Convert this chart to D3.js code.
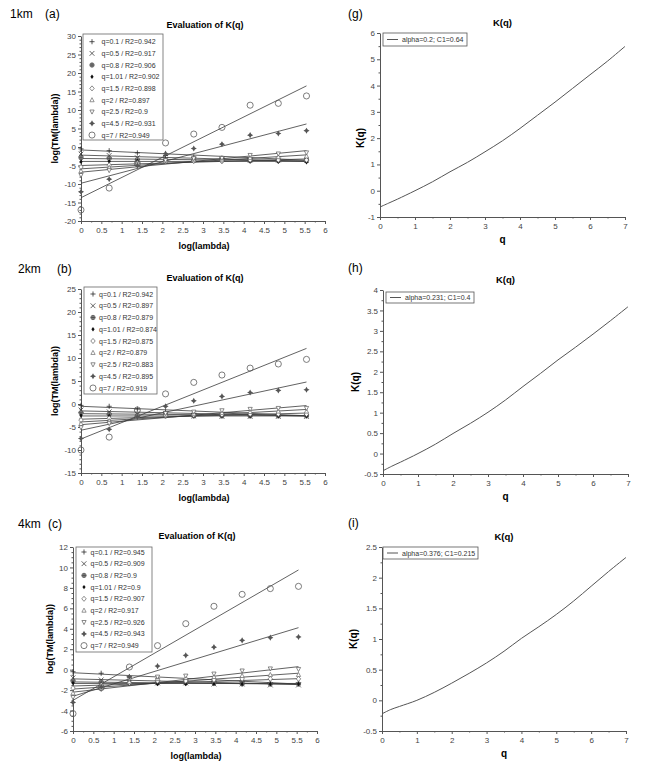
<!DOCTYPE html>
<html><head><meta charset="utf-8">
<script src="https://cdn.jsdelivr.net/npm/d3@7"></script>
<style>
body{margin:0;background:#fff;}
svg{display:block;font-family:"Liberation Sans",Arial,sans-serif;}
</style></head><body>
<svg id="c" width="669" height="761"></svg>
<script>
// ---------------- DATA ----------------
const logLambda = [0, 0.693, 1.386, 2.079, 2.773, 3.466, 4.159, 4.852, 5.545];
const qLabels = ["0.1","0.5","0.8","1.01","1.5","2","2.5","4.5","7"];
const markerTypes = ["plus","cross","circlePlus","dot","diamond","triUp","triDown","star","circle"];

const r2_1km = ["0.942","0.917","0.906","0.902","0.898","0.897","0.9","0.931","0.949"];
const r2_2km = ["0.942","0.897","0.879","0.874","0.875","0.879","0.883","0.895","0.919"];
const r2_4km = ["0.945","0.909","0.9","0.9","0.907","0.917","0.926","0.943","0.949"];

// log(TM(lambda)) points, one row per q
const tm1km = [
  [-0.5,-1.0,-1.6,-2.3,-2.7,-3.0,-3.2,-3.3,-3.4],
  [-1.9,-2.3,-2.9,-3.3,-3.4,-3.4,-3.5,-3.5,-3.6],
  [-2.9,-3.1,-3.4,-3.6,-3.6,-3.6,-3.7,-3.7,-3.6],
  [-4.0,-3.9,-3.8,-3.7,-3.8,-3.9,-3.9,-4.0,-4.1],
  [-5.4,-4.9,-4.3,-3.9,-3.8,-3.8,-3.5,-3.5,-3.5],
  [-6.5,-5.6,-4.6,-3.8,-3.5,-3.4,-2.9,-2.7,-2.5],
  [-7.6,-6.3,-4.8,-3.6,-3.1,-3.0,-2.2,-1.8,-1.5],
  [-12.1,-8.7,-5.0,-1.8,-0.4,0.75,3.2,3.65,4.4],
  [-17.0,-11.1,-4.5,1.1,3.5,5.3,11.3,11.8,13.8]
];
const fit1kmIntercept = [-0.8,-2.2,-3.1,-3.9,-5.0,-5.9,-6.8,-9.8,-13.7];
const fit1kmSlope     = [-0.5,-0.3,-0.12,0.0,0.32,0.68,1.05,2.89,5.45];

const tm2km = [
  [-0.3,-0.5,-1.1,-1.7,-2.0,-2.2,-2.3,-2.3,-2.4],
  [-1.3,-1.7,-2.2,-2.5,-2.6,-2.7,-2.7,-2.7,-2.7],
  [-1.9,-2.2,-2.5,-2.6,-2.6,-2.6,-2.6,-2.6,-2.6],
  [-2.5,-2.6,-2.6,-2.6,-2.6,-2.6,-2.6,-2.6,-2.6],
  [-3.5,-3.1,-2.7,-2.5,-2.4,-2.3,-2.2,-2.2,-2.2],
  [-4.3,-3.7,-2.8,-2.3,-2.1,-1.9,-1.7,-1.6,-1.6],
  [-5.1,-4.2,-2.9,-2.0,-1.7,-1.4,-1.1,-0.9,-0.9],
  [-7.5,-5.5,-2.8,-0.5,0.7,1.65,2.5,2.95,3.1],
  [-10.0,-7.2,-1.3,2.2,4.7,6.3,7.8,8.7,9.7]
];
const fit2kmIntercept = [-0.5,-1.5,-2.1,-2.6,-3.3,-3.9,-4.5,-5.7,-7.6];
const fit2kmSlope     = [-0.37,-0.2,-0.08,0.0,0.24,0.49,0.75,1.89,3.55];

const tm4km = [
  [-0.2,-0.35,-0.7,-0.9,-1.0,-1.1,-1.2,-1.3,-1.3],
  [-0.8,-1.0,-1.2,-1.3,-1.3,-1.4,-1.4,-1.5,-1.5],
  [-1.1,-1.2,-1.3,-1.3,-1.3,-1.3,-1.4,-1.4,-1.4],
  [-1.3,-1.4,-1.4,-1.4,-1.4,-1.4,-1.4,-1.4,-1.4],
  [-1.8,-1.5,-1.3,-1.1,-1.1,-1.0,-0.9,-0.9,-0.9],
  [-2.3,-1.7,-1.2,-0.9,-0.8,-0.7,-0.6,-0.5,-0.5],
  [-2.7,-1.9,-0.9,-0.7,-0.6,-0.4,-0.1,0.1,0.05],
  [-3.2,-1.7,-0.7,0.35,1.4,2.2,2.87,3.13,3.2],
  [-4.3,-1.76,0.26,2.35,4.5,6.2,7.37,7.93,8.15]
];
const fit4kmIntercept = [-0.3,-0.9,-1.2,-1.35,-1.6,-1.9,-2.2,-2.6,-3.0];
const fit4kmSlope     = [-0.2,-0.1,-0.04,0.0,0.13,0.28,0.45,1.21,2.3];

// K(q) curves
const qGrid = [0,0.25,0.5,1,1.5,2,2.5,3,3.5,4,4.5,5,5.5,6,6.5,7];
const kq1km = [-0.62,-0.47,-0.32,0.0,0.34,0.72,1.08,1.48,1.9,2.37,2.87,3.37,3.89,4.41,4.93,5.49];
const kq2km = [-0.42,-0.31,-0.21,0.0,0.23,0.49,0.74,1.01,1.31,1.64,1.96,2.29,2.6,2.92,3.25,3.59];
const kq4km = [-0.22,-0.15,-0.1,0.0,0.13,0.28,0.44,0.61,0.8,1.01,1.2,1.4,1.62,1.86,2.1,2.33];
const kqLegend = ["alpha=0.2; C1=0.64","alpha=0.231; C1=0.4","alpha=0.376; C1=0.215"];

// tick values
const xTicksLeft = [0,0.5,1,1.5,2,2.5,3,3.5,4,4.5,5,5.5,6];
const yTicks1km = [-20,-15,-10,-5,0,5,10,15,20,25,30];
const yTicks2km = [-15,-10,-5,0,5,10,15,20,25];
const yTicks4km = [-6,-4,-2,0,2,4,6,8,10,12];
const xTicksRight = [0,1,2,3,4,5,6,7];
const yTicksK1 = [-1,0,1,2,3,4,5,6];
const yTicksK2 = [-0.5,0,0.5,1,1.5,2,2.5,3,3.5,4];
const yTicksK3 = [-0.5,0,0.5,1,1.5,2,2.5];

// ---------------- DRAW ----------------
const svg = d3.select("#c");
const fmt = v => String(+v.toFixed(2));
const AX = "#555";

function styleAxis(sel){
  sel.select(".domain").attr("stroke",AX).attr("stroke-width",1);
  sel.selectAll(".tick line").attr("stroke",AX);
  sel.selectAll(".tick text").attr("fill","#444").attr("font-size",8);
}
function minor(vals, step){
  const out=[]; const lo=vals[0], hi=vals[vals.length-1];
  for(let v=lo; v<=hi+1e-9; v+=step){ if(!vals.some(t=>Math.abs(t-v)<1e-9)) out.push(+v.toFixed(4)); }
  return out;
}
function axes(x,y,o){
  const bx = svg.append("g").attr("transform",`translate(0,${o.yBot})`)
    .call(d3.axisBottom(x).tickValues(o.xt).tickSize(3).tickSizeOuter(0).tickPadding(3).tickFormat(fmt));
  styleAxis(bx);
  svg.append("g").attr("transform",`translate(0,${o.yBot})`)
    .call(d3.axisBottom(x).tickValues(minor(o.xt,o.xm)).tickSize(1.5).tickFormat(""))
    .call(s=>{s.select(".domain").remove(); s.selectAll("line").attr("stroke",AX);});
  const by = svg.append("g").attr("transform",`translate(${o.x0},0)`)
    .call(d3.axisLeft(y).tickValues(o.yt).tickSize(3).tickSizeOuter(0).tickPadding(2).tickFormat(fmt));
  styleAxis(by);
  svg.append("g").attr("transform",`translate(${o.x0},0)`)
    .call(d3.axisLeft(y).tickValues(minor(o.yt,o.ym)).tickSize(1.5).tickFormat(""))
    .call(s=>{s.select(".domain").remove(); s.selectAll("line").attr("stroke",AX);});
}
function marker(g, type, cx, cy){
  const m = g.append("g").attr("transform",`translate(${cx},${cy}) scale(0.85)`);
  switch(type){
    case "plus": m.append("path").attr("d","M-3,0H3M0,-3V3").attr("stroke","#222").attr("stroke-width",0.9); break;
    case "cross": m.append("path").attr("d","M-2.8,-2.8L2.8,2.8M-2.8,2.8L2.8,-2.8").attr("stroke","#333").attr("stroke-width",0.9); break;
    case "circlePlus":
      m.append("circle").attr("r",2.6).attr("fill","#999").attr("stroke","#444").attr("stroke-width",0.7);
      m.append("path").attr("d","M-2.6,0H2.6M0,-2.6V2.6").attr("stroke","#333").attr("stroke-width",0.7); break;
    case "dot": m.append("path").attr("d","M0,-2.6L1.9,0L0,2.6L-1.9,0Z").attr("fill","#111"); break;
    case "diamond": m.append("path").attr("d","M0,-3L2.6,0L0,3L-2.6,0Z").attr("fill","#fff").attr("stroke","#555").attr("stroke-width",0.8); break;
    case "triUp": m.append("path").attr("d","M0,-2.8L2.5,2L-2.5,2Z").attr("fill","#fff").attr("stroke","#666").attr("stroke-width",0.8); break;
    case "triDown": m.append("path").attr("d","M0,2.8L2.5,-2L-2.5,-2Z").attr("fill","#fff").attr("stroke","#555").attr("stroke-width",0.8); break;
    case "star": m.append("path").attr("d","M0,-3.6L1.3,-1.3L3.6,0L1.3,1.3L0,3.6L-1.3,1.3L-3.6,0L-1.3,-1.3Z").attr("fill","#555"); break;
    case "circle": m.append("circle").attr("r",3.6).attr("fill","none").attr("stroke","#555").attr("stroke-width",0.9); break;
  }
}
function text(x,y,t,opt={}){
  const e = svg.append("text").attr("x",x).attr("y",y).text(t)
    .attr("font-size",opt.size||9).attr("fill",opt.fill||"#000")
    .attr("text-anchor",opt.anchor||"middle");
  if(opt.bold) e.attr("font-weight","bold");
  if(opt.rotate) e.attr("transform",`rotate(-90,${x},${y})`);
  return e;
}

function leftPanel(o){
  const x = d3.scaleLinear().domain([0,6]).range([o.x0,o.x1]);
  const y = d3.scaleLinear().domain([o.yt[0],o.yt[o.yt.length-1]]).range([o.yBot,o.yTop]);
  axes(x,y,{...o, xt:xTicksLeft, xm:0.25});
  const g = svg.append("g");
  const line = d3.line().x(d=>x(d[0])).y(d=>y(d[1]));
  const xEnd = logLambda[logLambda.length-1];
  o.icpt.forEach((a,i)=>{
    g.append("path").attr("d",line([[0,a],[xEnd,a+o.slope[i]*xEnd]]))
      .attr("fill","none").attr("stroke","#3a3a3a").attr("stroke-width",0.8);
  });
  o.tm.forEach((row,i)=>{
    row.forEach((v,j)=>marker(g, markerTypes[i], x(logLambda[j]), y(v)));
  });
  const L = o.leg;
  svg.append("rect").attr("x",L.x).attr("y",L.y).attr("width",L.w).attr("height",L.h)
    .attr("fill","#fff").attr("stroke","#666").attr("stroke-width",0.8);
  qLabels.forEach((q,i)=>{
    const yy = L.y0 + i*L.dy;
    marker(svg, markerTypes[i], L.mx, yy);
    text(L.tx, yy+2.5, `q=${q} / R2=${o.r2[i]}`, {size:7, anchor:"start", fill:"#333"});
  });
  text((o.x0+o.x1)/2+2, o.yTop-8, "Evaluation of K(q)", {bold:true, size:9});
  text((o.x0+o.x1)/2+1, o.yBot+28, "log(lambda)", {bold:true, size:9});
  text(o.ytx, (o.yTop+o.yBot)/2, "log(TM(lambda))", {bold:true, size:9, rotate:true}).attr("dominant-baseline","central");
  text(o.lab1x, o.laby, o.lab1, {size:12, anchor:"start"});
  text(o.lab2x, o.laby, o.lab2, {size:12, anchor:"start"});
}

function rightPanel(o){
  const x = d3.scaleLinear().domain([0,7]).range([o.x0,o.x1]);
  const y = d3.scaleLinear().domain([o.yt[0],o.yt[o.yt.length-1]]).range([o.yBot,o.yTop]);
  axes(x,y,{...o, xt:xTicksRight, xm:0.5});
  const line = d3.line().curve(d3.curveCatmullRom).x((d,i)=>x(qGrid[i])).y(d=>y(d));
  svg.append("path").attr("d",line(o.k)).attr("fill","none").attr("stroke","#555").attr("stroke-width",1);
  const L = o.leg;
  svg.append("rect").attr("x",L.x).attr("y",L.y).attr("width",L.w).attr("height",L.h)
    .attr("fill","#fff").attr("stroke","#555").attr("stroke-width",0.8);
  svg.append("line").attr("x1",L.x+4).attr("x2",L.x+15).attr("y1",L.y+L.h/2).attr("y2",L.y+L.h/2)
    .attr("stroke","#555").attr("stroke-width",1);
  text(L.x+19, L.y+L.h/2+2.5, o.legText, {size:7, anchor:"start", fill:"#333"});
  text((o.x0+o.x1)/2, o.yTop-7, "K(q)", {bold:true, size:9.5});
  text((o.x0+o.x1)/2, o.yBot+26, "q", {bold:true, size:10});
  text(o.ytx, o.yty, "K(q)", {bold:true, size:10, rotate:true}).attr("dominant-baseline","central");
  text(348, o.laby, o.lab, {size:12, anchor:"start"});
}

leftPanel({x0:81,x1:325,yTop:36,yBot:221,yt:yTicks1km,ym:1,tm:tm1km,icpt:fit1kmIntercept,slope:fit1kmSlope,r2:r2_1km,
  leg:{x:83,y:34,w:80,h:106,y0:41.7,dy:11.67,mx:92,tx:101.5}, ytx:55,
  lab1:"1km",lab1x:10,lab2:"(a)",lab2x:45,laby:18});
leftPanel({x0:81,x1:325,yTop:289,yBot:473,yt:yTicks2km,ym:1,tm:tm2km,icpt:fit2kmIntercept,slope:fit2kmSlope,r2:r2_2km,
  leg:{x:84,y:287,w:73,h:107,y0:294,dy:11.75,mx:93,tx:99}, ytx:55,
  lab1:"2km",lab1x:18,lab2:"(b)",lab2x:57,laby:273});
leftPanel({x0:73,x1:317,yTop:547,yBot:731,yt:yTicks4km,ym:0.5,tm:tm4km,icpt:fit4kmIntercept,slope:fit4kmSlope,r2:r2_4km,
  leg:{x:76,y:547,w:76,h:105,y0:552,dy:11.7,mx:84,tx:90.5}, ytx:50,
  lab1:"4km",lab1x:18,lab2:"(c)",lab2x:48,laby:528});

rightPanel({x0:380,x1:625,yTop:33,yBot:217,yt:yTicksK1,ym:0.5,k:kq1km,legText:kqLegend[0],
  leg:{x:383,y:33,w:84,h:13}, ytx:360, yty:138, lab:"(g)", laby:18});
rightPanel({x0:383,x1:628,yTop:290,yBot:474,yt:yTicksK2,ym:0.25,k:kq2km,legText:kqLegend[1],
  leg:{x:386,y:292,w:88,h:11}, ytx:355, yty:382, lab:"(h)", laby:272});
rightPanel({x0:382,x1:626,yTop:547,yBot:731,yt:yTicksK3,ym:0.25,k:kq4km,legText:kqLegend[2],
  leg:{x:383,y:547,w:95,h:12}, ytx:353, yty:639, lab:"(i)", laby:527});
</script>
</body></html>
